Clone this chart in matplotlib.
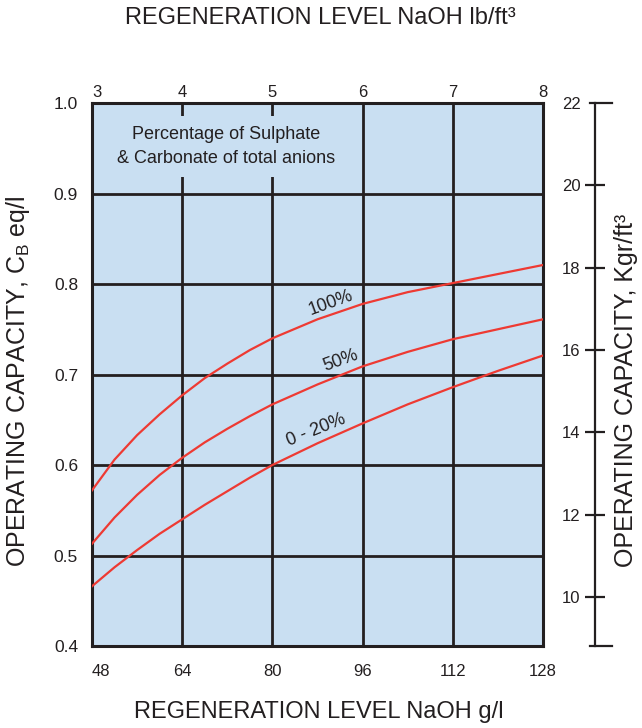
import matplotlib.pyplot as plt
from matplotlib.lines import Line2D

plt.rcParams['font.family'] = ['Liberation Sans', 'DejaVu Sans']

# regeneration level, g/l
naoh_gl = [48, 52, 56, 60, 64, 68, 72, 76, 80, 88, 96, 104, 112, 120, 128]
# operating capacity, eq/l, by sulphate + carbonate share
cap_100 = [0.572, 0.606, 0.633, 0.656, 0.677, 0.696, 0.712, 0.727, 0.740,
           0.761, 0.778, 0.791, 0.801, 0.811, 0.821]
cap_50 = [0.513, 0.542, 0.567, 0.589, 0.608, 0.625, 0.640, 0.654, 0.667,
          0.689, 0.709, 0.725, 0.739, 0.750, 0.761]
cap_0_20 = [0.466, 0.487, 0.506, 0.524, 0.540, 0.556, 0.571, 0.586, 0.600,
            0.624, 0.646, 0.667, 0.686, 0.704, 0.721]

gl_ticks = [48, 64, 80, 96, 112, 128]
lb_ticks = [3, 4, 5, 6, 7, 8]
eq_ticks = [0.4, 0.5, 0.6, 0.7, 0.8, 0.9, 1.0]
kgr_ticks = [10, 12, 14, 16, 18, 20, 22]

dark = '#231f20'
red = '#ee3a33'
bg = '#c9dff2'

W, H = 642, 728
fig = plt.figure(figsize=(W / 100, H / 100), dpi=100)
ax = fig.add_axes([92 / W, 82 / H, 451 / W, 543 / H])
ax.set_facecolor(bg)
ax.set_xlim(48, 128)
ax.set_ylim(0.4, 1.0)
ax.set_xticks(gl_ticks)
ax.set_yticks(eq_ticks)
ax.set_yticklabels([f'{v:.1f}' for v in eq_ticks])
ax.set_axisbelow(True)
ax.grid(True, color=dark, lw=2)
for s in ax.spines.values():
    s.set_linewidth(2.2)
    s.set_color(dark)
ax.tick_params(axis='x', length=0, pad=13, labelsize=12, colors=dark)
ax.tick_params(axis='y', length=0, pad=10, labelsize=12.5, colors=dark)
ax.get_xticklabels()[0].set_horizontalalignment('left')

ax.plot(naoh_gl, cap_100, color=red, lw=1.6, zorder=3)
ax.plot(naoh_gl, cap_50, color=red, lw=1.6, zorder=3)
ax.plot(naoh_gl, cap_0_20, color=red, lw=1.6, zorder=3)

ax.text(90.4, 0.779, '100%', rotation=20, ha='center', va='center', fontsize=13, color=dark, zorder=4)
ax.text(92.2, 0.715, '50%', rotation=20, ha='center', va='center', fontsize=13, color=dark, zorder=4)
ax.text(87.7, 0.639, '0 - 20%', rotation=22, ha='center', va='center', fontsize=13, color=dark, zorder=4)

ax.text(71.8, 0.952, 'Percentage of Sulphate\n& Carbonate of total anions', ha='center', va='center',
        fontsize=13, color=dark, linespacing=1.55, zorder=4,
        bbox=dict(facecolor=bg, edgecolor='none', pad=7))

# top axis, lb/ft3
axt = ax.twiny()
axt.set_xlim(3, 8)
axt.set_xticks(lb_ticks)
axt.tick_params(axis='x', length=0, pad=2.5, labelsize=12, colors=dark)
axt.get_xticklabels()[0].set_horizontalalignment('left')
for s in axt.spines.values():
    s.set_visible(False)

# right axis, Kgr/ft3, drawn as a separate scale bar
ax3 = fig.add_axes([595 / W, 82 / H, 0.0001, 543 / H])
ax3.patch.set_visible(False)
ax3.set_ylim(8.81, 22)
ax3.set_yticks(kgr_ticks)
ax3.set_xticks([])
for k in ['top', 'right', 'bottom']:
    ax3.spines[k].set_visible(False)
ax3.spines['left'].set_linewidth(1.6)
ax3.spines['left'].set_color(dark)
ax3.tick_params(axis='y', direction='inout', length=15, width=1.6, pad=3, labelsize=12, colors=dark)
ax3.yaxis.get_major_ticks()[-1].tick1line.set_visible(False)
for yp in [625, 82]:
    fig.add_artist(Line2D([590 / W, 612 / W], [yp / H, yp / H], transform=fig.transFigure,
                          color=dark, lw=1.6))

fig.text(320 / W, 1 - 18 / H, 'REGENERATION LEVEL NaOH lb/ft³', ha='center', va='center', fontsize=17, color=dark)
fig.text(319 / W, 1 - 712 / H, 'REGENERATION LEVEL NaOH g/l', ha='center', va='center', fontsize=17, color=dark)
fig.text(18 / W, 1 - 381 / H, r'OPERATING CAPACITY, C$_\mathregular{B}$ eq/l',
         rotation=90, ha='center', va='center', fontsize=18, color=dark)
fig.text(626 / W, 1 - 390 / H, 'OPERATING CAPACITY, Kgr/ft³', rotation=90,
         ha='center', va='center', fontsize=18, color=dark)

fig.savefig('out.png', dpi=100)
